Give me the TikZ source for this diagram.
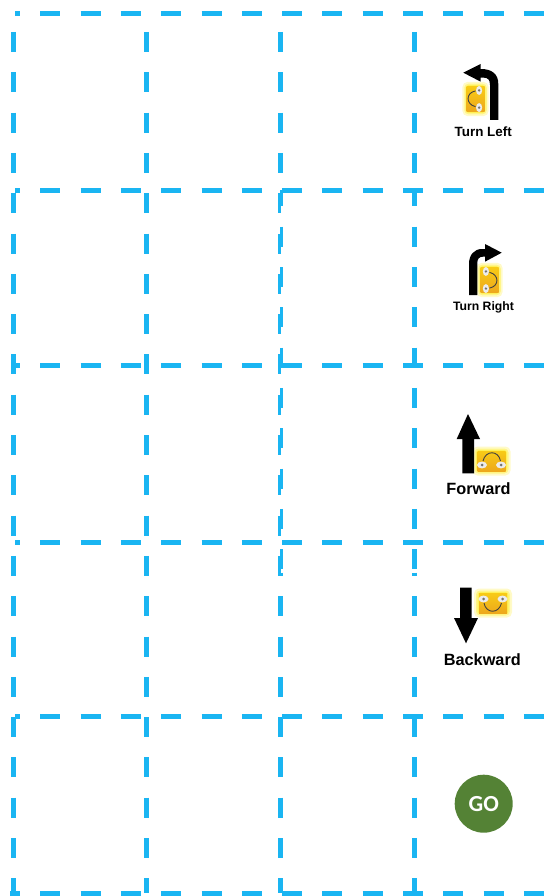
\documentclass[tikz,border=0pt]{standalone}
\usepackage{fontspec}
\setmainfont{Liberation Sans}
\newfontfamily\gofont{Carlito}
\usepackage{xcolor}
\definecolor{gridblue}{HTML}{1AB5F2}
\definecolor{gogreen}{HTML}{548235}
\definecolor{botyellow}{HTML}{F8CB16}
\definecolor{botorange}{HTML}{EDA81C}
\definecolor{botglow}{HTML}{FFF04A}
\tikzset{
  gridline/.style={gridblue, line width=5pt, dash pattern=on 20pt off 20.3pt},
  gridpiece/.style={gridblue, line width=5pt},
  cmdarrow/.style={fill=black, draw=none},
  cmdlabel/.style={text=black, inner sep=0pt},
}
% robot seen from above, eyes to the front; #1 centre, #2 turn, #3 size
\newcommand{\robotbot}[3]{
  \begin{scope}[shift={#1}, rotate=#2, scale=#3]
    \fill[botglow, opacity=0.3, rounded corners=5pt] (-19,-14.5) rectangle (19,14.5);
    \fill[botglow, opacity=0.5, rounded corners=4pt] (-17,-12.5) rectangle (17,12.5);
    \fill[botglow, opacity=0.8, rounded corners=3pt] (-15.5,-11) rectangle (15.5,11);
    \shade[top color=botyellow, bottom color=botorange] (-14,-10) rectangle (14,10);
    \draw[black!75, line width=0.9pt] (-9,0) .. controls (-7,11) and (6,11) .. (8.5,0);
    \foreach \side in {-1,1} {
      \fill[white!85!gray] (\side*9.5,-4) ellipse (5pt and 3.4pt);
      \fill[black!55] (\side*9.5,-4) circle (1.5pt);
    }
  \end{scope}
}
\begin{document}
\begin{tikzpicture}[x=1pt, y=-1pt]
\useasboundingbox (0,0) rectangle (546,896);
% grid
\begin{scope}
\clip (0,0) rectangle (546,896);
\foreach \yy in {14,190.5,365,542,716.7}
  \draw[gridline, dash phase=15pt] (15,\yy) -- (546,\yy);
\draw[gridline, dash phase=10pt] (10,893.5) -- (546,893.5);
\foreach \xx in {13.5,146}
  \draw[gridline] (\xx,32) -- (\xx,893);
\foreach \xx in {280,414.5} {
  \draw[gridline] (\xx,32) -- (\xx,175);
  \draw[gridline] (\xx,596.2) -- (\xx,893);
  \draw[gridpiece] (\xx,572.5) -- (\xx,576);
}
% the two columns that do not line up
\draw[gridline, line width=3.4pt, dash phase=3.6pt] (281.7,190) -- (281.7,570);
\draw[gridline, line width=3.4pt] (279.2,193.2) -- (279.2,576);
\draw[gridline, dash phase=3.6pt] (414.5,190) -- (414.5,570);
\end{scope}
% turn left
\robotbot{(475.5,99)}{-90}{0.9}
\fill[cmdarrow] (463.3,72.7) -- (480.7,64) -- (480.7,69) .. controls (492,69) and (498.3,74) .. (498.3,84) -- (498.3,120) -- (490,120) -- (490,85) .. controls (490,80) and (488,77.7) .. (484,77.7) -- (480.7,77.7) -- (480.7,81.7) -- cycle;
\node[cmdlabel, font=\bfseries\fontsize{13.4}{15}\selectfont] (turnleft) at (483.2,131.5) {Turn Left};
% turn right
\robotbot{(489.5,280)}{90}{0.9}
\fill[cmdarrow] (501.7,252.7) -- (485,244) -- (485,249) -- (482,249) .. controls (474,249) and (469,255) .. (469,264) -- (469,295) -- (477.3,295) -- (477.3,263) .. controls (477.3,259) and (479,256.7) .. (483,256.7) -- (485,256.7) -- (485,261.7) -- cycle;
\node[cmdlabel, font=\bfseries\fontsize{12.2}{14}\selectfont] (turnright) at (483.5,307.7) {Turn Right};
% forward
\robotbot{(491.5,461)}{180}{1}
\fill[cmdarrow] (468,414) -- (480,439) -- (474,439) -- (474,473.3) -- (462.3,473.3) -- (462.3,439) -- (456.7,439) -- cycle;
\node[cmdlabel, font=\bfseries\fontsize{16.3}{18}\selectfont] (forward) at (478.5,489) {Forward};
% backward
\robotbot{(493,603)}{0}{1}
\fill[cmdarrow] (460,587.7) -- (471.7,587.7) -- (471.7,618) -- (478,618) -- (466,643.3) -- (454,618) -- (460,618) -- cycle;
\node[cmdlabel, font=\bfseries\fontsize{16.3}{18}\selectfont] (backward) at (482.3,660) {Backward};
% go button
\node[circle, fill=gogreen, text=white, minimum size=58pt, inner sep=0pt, font=\gofont\bfseries\fontsize{23}{25}\selectfont] (gobutton) at (483.7,803.7) {GO};
\end{tikzpicture}
\end{document}
